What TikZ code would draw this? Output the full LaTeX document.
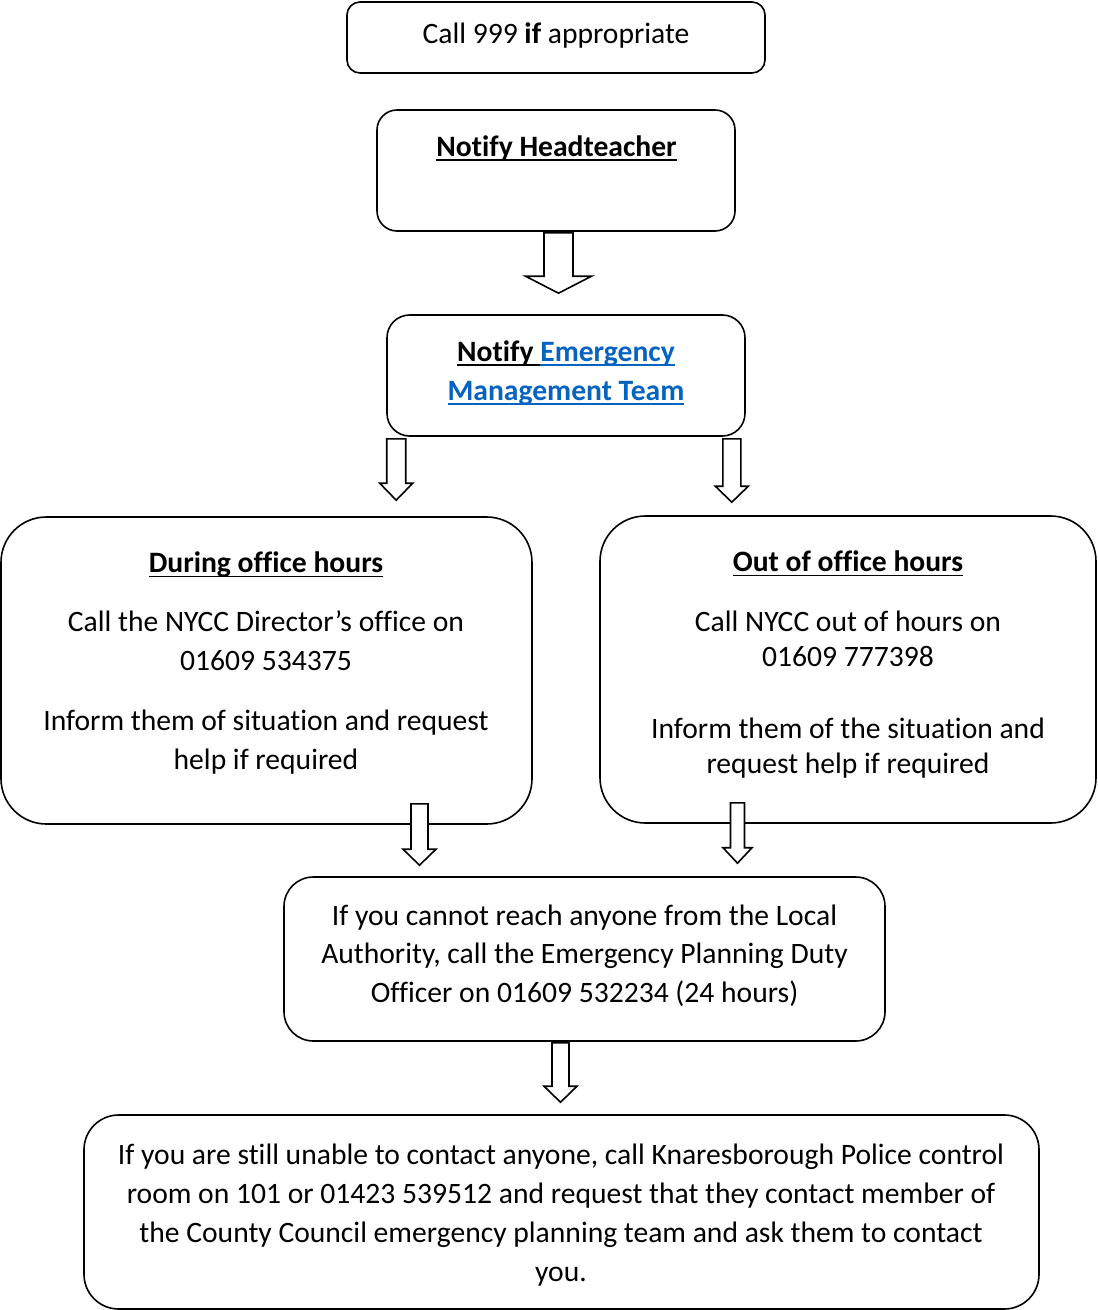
\documentclass[tikz,border=0pt]{standalone}
\usepackage{fontspec}
\setmainfont{Carlito}[Ligatures=NoCommon]
\usetikzlibrary{calc}
\definecolor{linkblue}{RGB}{5,99,193}
\newsavebox\undlbox
\newcommand{\undl}[1]{\sbox\undlbox{#1}\rlap{\rule[-3.5pt]{\wd\undlbox}{1pt}}\usebox\undlbox}
% hollow block arrow: top, tip, shaft half width, head half width, head length
\newcommand{\blockarrow}[5]{%
	\draw[arrowbody] ($(#1)+(-#3,0)$) -- ($(#2)+(-#3,-#5)$) -- ($(#2)+(-#4,-#5)$) -- (#2) -- ($(#2)+(#4,-#5)$) -- ($(#2)+(#3,-#5)$) -- ($(#1)+(#3,0)$) -- cycle ;}

\begin{document}
\begin{tikzpicture}[x=0.75pt,y=0.75pt,yscale=-1,xscale=1,
	box/.style={draw, line width=1.2pt, inner sep=0pt},
	txt/.style={inner sep=0pt, align=center, anchor=base, font={\fontsize{22.2}{29.25}\selectfont}},
	arrowbody/.style={draw, line width=1.2pt, fill=white, line join=miter}]
	\useasboundingbox (0,0) rectangle (1097,1310);
	% boxes
	\node [box, rounded corners=9.75pt, minimum width=313.5pt, minimum height=53.25pt] (call) at (556,37.5) {};
	\node [box, rounded corners=15pt, minimum width=268.5pt, minimum height=90.75pt] (hdt) at (556,170.5) {};
	\node [box, rounded corners=17pt, minimum width=268.5pt, minimum height=90.75pt] (emt) at (566,375.5) {};
	\node [box, rounded corners=34pt, minimum width=398.25pt, minimum height=230.25pt] (dur) at (266.5,670.5) {};
	\node [box, rounded corners=34pt, minimum width=372pt, minimum height=230.25pt] (out) at (848,669.5) {};
	\node [box, rounded corners=22pt, minimum width=450.75pt, minimum height=123pt] (plan) at (584.5,959) {};
	\node [box, rounded corners=26pt, minimum width=716.25pt, minimum height=145.5pt] (pol) at (561.5,1212) {};
	% texts (base = last line)
	\node [txt] (calltxt) at (556,43.5) {Call 999 \textbf{if} appropriate};
	\node [txt] (hdttxt) at (556.5,156) {\textbf{\undl{Notify Headteacher}}};
	\node [txt] (emttxt) at (566,400) {\textbf{\undl{Notify\ }\textcolor{linkblue}{\undl{Emergency}}}\\ \textbf{\textcolor{linkblue}{\undl{Management Team}}}};
	\node [txt] (durtxt) at (266,769.5) {\textbf{\undl{During office hours}}\\[14.6pt] Call the NYCC Director’s office on\\ 01609 534375\\[16pt] Inform them of situation and request\\ help if required};
	\node [txt, font={\fontsize{22.2}{26.25}\selectfont}] (outtxt) at (848,773.5) {\textbf{\undl{Out of office hours}}\\[18.75pt] Call NYCC out of hours on\\ 01609 777398\\[27.75pt] Inform them of the situation and\\ request help if required};
	\node [txt, font={\fontsize{22.2}{28.9}\selectfont}] (plantxt) at (584.5,1002.5) {If you cannot reach anyone from the Local\\ Authority, call the Emergency Planning Duty\\ Officer on 01609 532234 (24 hours)};
	\node [txt] (poltxt) at (561,1281) {If you are still unable to contact anyone, call Knaresborough Police control\\ room on 101 or 01423 539512 and request that they contact member of\\ the County Council emergency planning team and ask them to contact\\ you.};
	% arrow ends
	\coordinate (a1top) at ($(hdt.south)+(2.5,1)$);
	\coordinate (a1tip) at ($(a1top |- emt.north)+(0,-21)$);
	\coordinate (a2top) at ($(emt.south west)+(10,2)$);
	\coordinate (a2tip) at ($(a2top |- dur.north)+(0,-16)$);
	\coordinate (a3top) at ($(emt.south east)+(-14,2)$);
	\coordinate (a3tip) at ($(a3top |- out.north)+(0,-13)$);
	\coordinate (a4top) at ($(dur.south)+(153,-21)$);
	\coordinate (a4tip) at ($(a4top |- plan.north)+(0,-11)$);
	\coordinate (a5top) at ($(out.south)+(-110.5,-21)$);
	\coordinate (a5tip) at ($(a5top |- plan.north)+(0,-13)$);
	\coordinate (a6top) at ($(plan.south)+(-24,1)$);
	\coordinate (a6tip) at ($(a6top |- pol.north)+(0,-12)$);
	% arrows
	\blockarrow{a1top}{a1tip}{14.5}{33}{17}
	\blockarrow{a2top}{a2tip}{9.5}{16.5}{17}
	\blockarrow{a3top}{a3tip}{9}{16.5}{16}
	\blockarrow{a4top}{a4tip}{8.5}{16.5}{16}
	\blockarrow{a5top}{a5tip}{7}{14.5}{15.5}
	\blockarrow{a6top}{a6tip}{8.5}{16.5}{16}
\end{tikzpicture}
\end{document}
